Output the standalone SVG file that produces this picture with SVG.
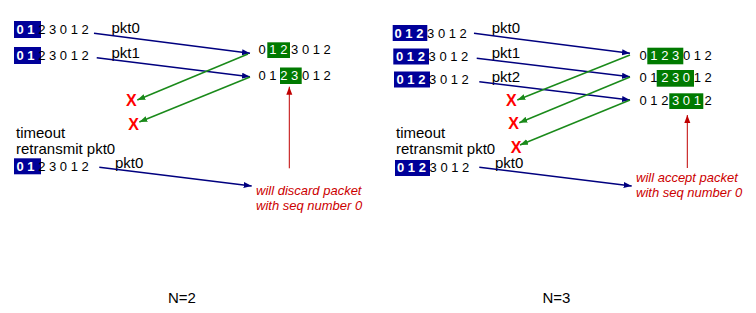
<svg xmlns="http://www.w3.org/2000/svg" width="756" height="313" viewBox="0 0 756 313">
<defs>
<style>
text{font-family:"Liberation Sans",Arial,sans-serif;fill:#000}
.seq{font-size:13px}
.lbl{font-size:15px}
.hb{fill:#fff;font-weight:bold}
.hg{fill:#fff}
.bbox{fill:#000099}
.gbox{fill:#007a00}
.x{font-size:16px;font-weight:bold;fill:#ff0000}
.note{font-size:13px;font-style:italic;fill:#cc0000}
.blue{stroke:#00007f;stroke-width:1.5;fill:none;marker-end:url(#ab)}
.green{stroke:#1a8a1a;stroke-width:1.5;fill:none;marker-end:url(#ag)}
.red{stroke:#c00000;stroke-width:1;fill:none;marker-end:url(#ar)}
.big{font-size:15px}
</style>
<marker id="ab" markerUnits="userSpaceOnUse" markerWidth="9" markerHeight="7" refX="8" refY="3" orient="auto"><path d="M0,0 L8,3 L0,6 z" fill="#00007f"/></marker>
<marker id="ag" markerUnits="userSpaceOnUse" markerWidth="9" markerHeight="7" refX="8" refY="3" orient="auto"><path d="M0,0 L8,3 L0,6 z" fill="#1a8a1a"/></marker>
<marker id="ar" markerUnits="userSpaceOnUse" markerWidth="9" markerHeight="7" refX="8" refY="3" orient="auto"><path d="M0,0 L8,3 L0,6 z" fill="#c00000"/></marker>
</defs>

<!-- Left panel: N=2 -->
<g id="left-sender-1"><rect class="bbox" x="14" y="21" width="27" height="17"/><text class="seq" x="16.5" y="34.3"><tspan class="hb">0 1</tspan> 2 3 0 1 2</text></g>
<g id="left-sender-2"><rect class="bbox" x="14" y="47" width="27" height="17"/><text class="seq" x="16.5" y="60"><tspan class="hb">0 1</tspan> 2 3 0 1 2</text></g>
<g id="left-pkt-labels"><text class="lbl" x="111.5" y="33.3">pkt0</text><text class="lbl" x="111.5" y="57.5">pkt1</text></g>
<g id="left-recv-1"><rect class="gbox" x="267.3" y="42.3" width="22.7" height="15.7"/><text class="seq" x="258.5" y="54"><tspan>0 </tspan><tspan class="hg">1 2</tspan> 3 0 1 2</text></g>
<g id="left-recv-2"><rect class="gbox" x="280" y="67.5" width="21.7" height="16.5"/><text class="seq" x="258.5" y="80">0 1 <tspan class="hg">2 3</tspan> 0 1 2</text></g>
<g id="left-x-1"><text class="x" x="126" y="105.7">X</text></g>
<g id="left-x-2"><text class="x" x="128.3" y="130">X</text></g>
<g id="left-timeout"><text class="lbl" x="16" y="138">timeout</text><text class="lbl" x="16" y="154.3">retransmit pkt0</text></g>
<g id="left-sender-3"><rect class="bbox" x="14" y="158.3" width="27" height="16"/><text class="seq" x="16.5" y="171"><tspan class="hb">0 1</tspan> 2 3 0 1 2</text><text class="lbl" x="115" y="168.3">pkt0</text></g>
<g id="left-note"><text class="note" x="256" y="195">will discard packet</text><text class="note" x="256" y="210">with seq number 0</text></g>
<g id="left-n"><text class="big" x="168" y="302.7">N=2</text></g>

<!-- Right panel: N=3 -->
<g id="right-sender-1"><rect class="bbox" x="392.7" y="25" width="34.6" height="16"/><text class="seq" x="394.5" y="37.5"><tspan class="hb">0 1 2</tspan> 3 0 1 2</text></g>
<g id="right-sender-2"><rect class="bbox" x="393.3" y="48.5" width="35.7" height="16"/><text class="seq" x="396" y="61"><tspan class="hb">0 1 2</tspan> 3 0 1 2</text></g>
<g id="right-sender-3"><rect class="bbox" x="394" y="71.5" width="36" height="16"/><text class="seq" x="396.5" y="84"><tspan class="hb">0 1 2</tspan> 3 0 1 2</text></g>
<g id="right-pkt-labels"><text class="lbl" x="491.7" y="33.3">pkt0</text><text class="lbl" x="491.7" y="58">pkt1</text><text class="lbl" x="491.7" y="81.5">pkt2</text></g>
<g id="right-recv-1"><rect class="gbox" x="647.3" y="47.7" width="36" height="16.6"/><text class="seq" x="639.5" y="60">0 <tspan class="hg">1 2 3</tspan> 0 1 2</text></g>
<g id="right-recv-2"><rect class="gbox" x="656.7" y="70" width="37.3" height="16.7"/><text class="seq" x="639.5" y="82.3">0 1 <tspan class="hg">2 3 0</tspan> 1 2</text></g>
<g id="right-recv-3"><rect class="gbox" x="669.3" y="93.3" width="34" height="15.7"/><text class="seq" x="639.5" y="105">0 1 2 <tspan class="hg">3 0 1</tspan> 2</text></g>
<g id="right-x-1"><text class="x" x="506" y="106">X</text></g>
<g id="right-x-2"><text class="x" x="508.3" y="129.3">X</text></g>
<g id="right-x-3"><text class="x" x="510.7" y="152.5">X</text></g>
<g id="right-timeout"><text class="lbl" x="396" y="138.3">timeout</text><text class="lbl" x="396" y="154.3">retransmit pkt0</text></g>
<g id="right-sender-4"><rect class="bbox" x="395" y="160" width="35" height="16"/><text class="seq" x="397" y="172.3"><tspan class="hb">0 1 2</tspan> 3 0 1 2</text><text class="lbl" x="495" y="168.3">pkt0</text></g>
<g id="right-note"><text class="note" x="636" y="182.3">will accept packet</text><text class="note" x="636" y="197.3">with seq number 0</text></g>
<g id="right-n"><text class="big" x="542.5" y="302.7">N=3</text></g>

<g id="connectors">
<line class="blue" x1="94" y1="33.3" x2="250" y2="53.3"/>
<line class="blue" x1="96.7" y1="57.7" x2="250" y2="76.7"/>
<line class="blue" x1="99.3" y1="167.3" x2="251.7" y2="186"/>
<line class="green" x1="248" y1="54" x2="137.3" y2="100"/>
<line class="green" x1="250" y1="77" x2="139.3" y2="122"/>
<line class="red" x1="289.3" y1="168.3" x2="289.3" y2="86.7"/>
<line class="blue" x1="474" y1="33.3" x2="630" y2="53.3"/>
<line class="blue" x1="476.7" y1="58.3" x2="630" y2="76.7"/>
<line class="blue" x1="479.3" y1="81.7" x2="630" y2="100"/>
<line class="blue" x1="479.3" y1="167.3" x2="631.7" y2="186"/>
<line class="green" x1="630" y1="55" x2="517.3" y2="100"/>
<line class="green" x1="630" y1="77" x2="519.3" y2="122.7"/>
<line class="green" x1="630" y1="100" x2="520" y2="145"/>
<line class="red" x1="687.3" y1="168" x2="687.3" y2="115"/>
</g>
</svg>
